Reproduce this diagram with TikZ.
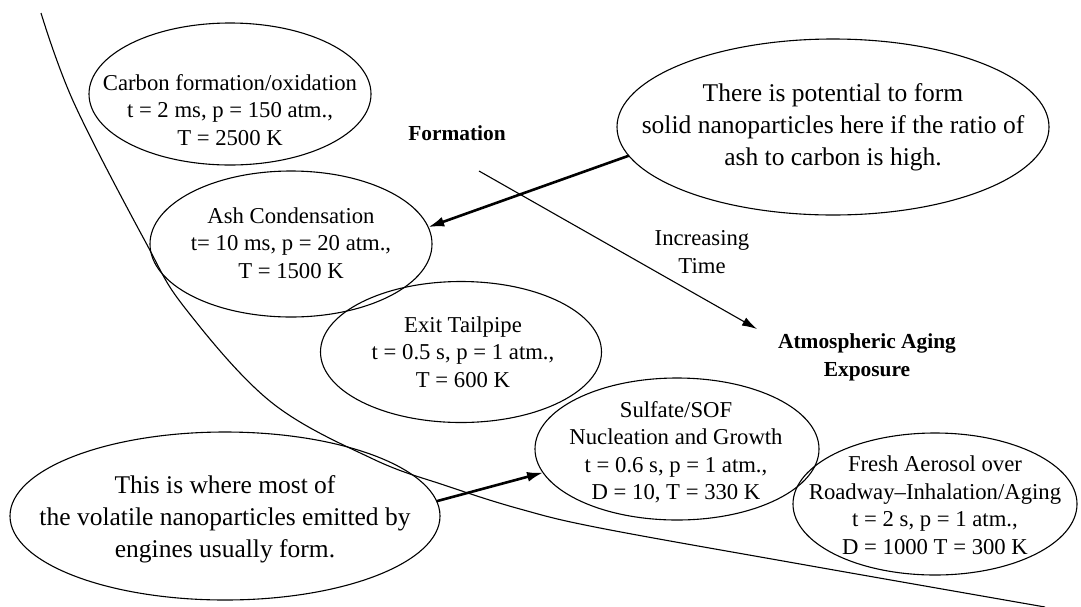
\documentclass[tikz,border=0pt]{standalone}
\usepackage{fontspec}
\setmainfont{Liberation Serif}
\usetikzlibrary{shapes.geometric,arrows.meta}
\newcommand\myfs[2]{\fontsize{#1}{#2}\selectfont}
\begin{document}
\begin{tikzpicture}[x=1pt,y=-1pt,
  ell/.style={ellipse,draw,line width=1.1pt,inner sep=0pt,outer sep=0pt},
  txt/.style={align=center,inner sep=0pt,font=\myfs{22.7}{27.5}},
  bigtxt/.style={align=center,inner sep=0pt,font=\myfs{25.5}{32}},
  lbl/.style={align=center,inner sep=0pt,font=\myfs{21.4}{28}\bfseries},
  plain/.style={align=center,inner sep=0pt,font=\myfs{22.7}{28}},
  thickarrow/.style={line width=2.6pt,-{Latex[length=16pt,width=10pt]}},
  thinarrow/.style={line width=1.1pt,-{Latex[length=15pt,width=9pt]}}]
\useasboundingbox (0,0) rectangle (1081,606);

% dividing curve
\draw[line width=1.1pt] plot[smooth,tension=0.6] coordinates
  {(41,13) (74,103) (145,241) (185,308) (271,402) (373,459) (447,486) (520,509) (600,528) (800,564) (1045,607)};

% ellipses
\node[ell,minimum width=282,minimum height=142] (carbon) at (230,94) {};
\node[txt] (carbontxt) at (230,110) {Carbon formation/oxidation\\t = 2 ms, p = 150 atm.,\\T = 2500 K};

\node[ell,minimum width=282,minimum height=146] (ash) at (291,244) {};
\node[txt] (ashtxt) at (291,243) {Ash Condensation\\t= 10 ms, p = 20 atm.,\\T = 1500 K};

\node[ell,minimum width=281,minimum height=141] (exit) at (461,352) {};
\node[txt] (exittxt) at (463,352) {Exit Tailpipe\\t = 0.5 s, p = 1 atm.,\\T = 600 K};

\node[ell,minimum width=432,minimum height=176] (big) at (833,127) {};
\node[bigtxt] (bigtxt) at (833,127) {There is potential to form\\solid nanoparticles here if the ratio of\\ash to carbon is high.};

\node[ell,minimum width=430,minimum height=168] (bl) at (225,516) {};
\node[bigtxt] (bltxt) at (225,519) {This is where most of\\the volatile nanoparticles emitted by\\engines usually form.};

\node[ell,minimum width=284,minimum height=142] (sul) at (677,449) {};
\node[txt] (sultxt) at (676,452) {Sulfate/SOF\\Nucleation and Growth\\t = 0.6 s, p = 1 atm.,\\D = 10, T = 330 K};

\node[ell,minimum width=284,minimum height=142] (fresh) at (935,504) {};
\node[txt] (freshtxt) at (935,505) {Fresh Aerosol over\\Roadway--Inhalation/Aging\\t = 2 s, p = 1 atm.,\\D = 1000 T = 300 K};

% labels
\node[lbl] (formation) at (457,133) {Formation};
\node[plain] (inctime) at (702,252) {Increasing\\Time};
\node[lbl] (atmos) at (867,357) {Atmospheric Aging\\Exposure};

% time arrow
\coordinate (tstart) at (479,171);
\coordinate (tend) at (757,329);
\draw[thinarrow] (tstart) -- (tend);

% thick arrows
\draw[thickarrow] (big.188) -- (ash.7);
\draw[thickarrow] (bl.4) -- (sul.190);
\end{tikzpicture}
\end{document}
